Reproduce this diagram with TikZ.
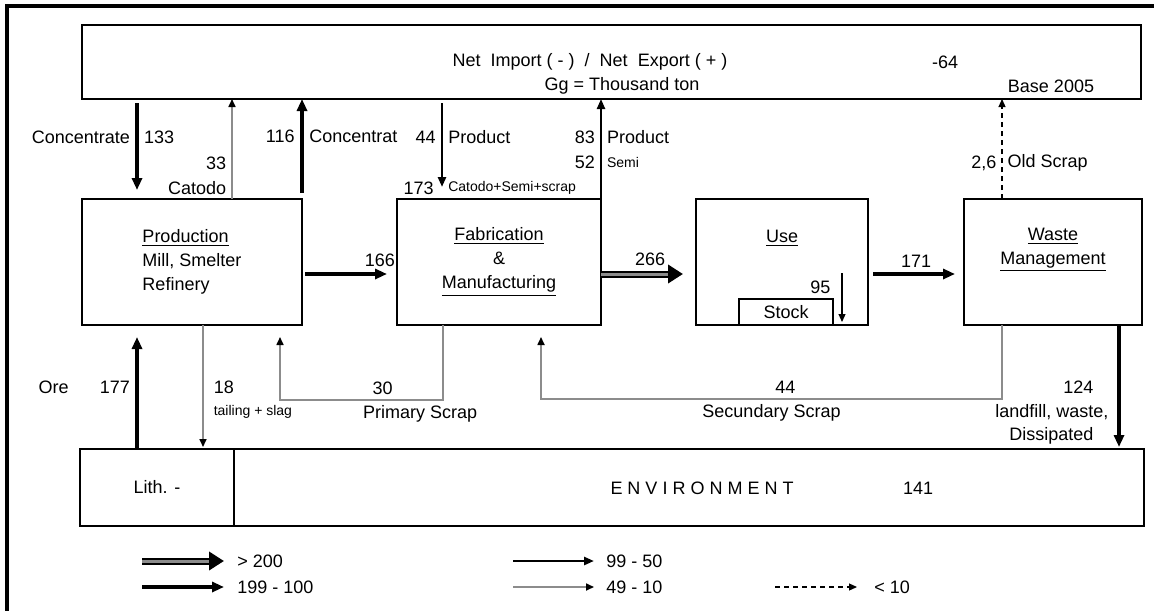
\documentclass[tikz,border=0pt]{standalone}
\usepackage{fontspec}
\setmainfont{Liberation Sans}
\usepackage{tikz}
\usetikzlibrary{positioning,arrows.meta}
\definecolor{flowgray}{gray}{0.55}
\newcommand{\smtxt}{\fontsize{7}{8}\selectfont}

\begin{document}
\begin{tikzpicture}[
  x=0.5pt, y=-0.5pt,
  font=\fontsize{9}{12}\selectfont,
  procbox/.style={draw, line width=1pt, inner sep=0pt, outer sep=0pt,
                  minimum height=63pt, align=center},
  flatbox/.style={draw, line width=1pt, inner sep=0pt, outer sep=0pt,
                  minimum height=38.5pt},
  lbl/.style={inner sep=2.5pt},
  flowA/.style={line width=3.5pt, -{Triangle[length=7.5pt,width=9pt]},
                postaction={draw=flowgray, line width=1.5pt, -, shorten >=7.5pt}},
  flowB/.style={line width=2pt, -{Triangle[length=6pt,width=5pt]}},
  flowC/.style={line width=1.3pt, -{Triangle[length=5pt,width=4pt]}},
  flowD/.style={line width=0.8pt, draw=flowgray,
                -{Triangle[length=4pt,width=3.5pt,color=black]}},
  flowE/.style={line width=0.6pt, dash pattern=on 2.5pt off 2pt,
                -{Triangle[length=4pt,width=3.5pt]}},
  flowS/.style={line width=0.6pt, -{Triangle[length=4pt,width=3.5pt]}}
]
\useasboundingbox (0,0) rectangle (1154,610);
\draw[line width=1.8pt] (7,615) -- (7,6) -- (1160,6);

% trade box
\node[flatbox, minimum width=529.5pt, minimum height=37pt] (netbox) at (611.5,62) {};
\node (nettxt) at (590,62) {Net\ \ Import ( - )\ \ /\ \ Net\ \ Export ( + )};
\node (unittxt) at (622,86) {Gg = Thousand ton};
\node (netval) at (945,62) {-64};
\node (basetxt) at (1051,86) {Base 2005};

% processes
\node[procbox, minimum width=110pt, align=left] (prod) at (192,262)
  {\underline{Production}\\Mill, Smelter\\Refinery};
\node[procbox, minimum width=102pt, right=47.5pt of prod] (fab)
  {\underline{Fabrication}\\\&\\\underline{Manufacturing}};
\node[procbox, minimum width=86pt, right=47.5pt of fab] (use) {};
\node[procbox, minimum width=89pt, right=48pt of use] (waste) {};
\node (uselbl) at ([yshift=-19.5pt]use.north) {\underline{Use}};
\node[draw, line width=1pt, inner sep=0pt, outer sep=0pt,
      minimum width=47pt, minimum height=13pt] (stock) at (786,312) {Stock};
\node[align=center] (wastelbl) at ([yshift=-25.5pt]waste.north)
  {\underline{Waste}\\\underline{Management}};

% environment
\node[flatbox, minimum width=77pt] (lith) at (157,487.5) {Lith. -};
\node[flatbox, minimum width=455pt, right=0pt of lith] (env) {};
\node (envtxt) at (702,488) {E N V I R O N M E N T};
\node (envval) at (918,488) {141};

\coordinate (xA) at (137,0);
\coordinate (xB) at (232,0);
\coordinate (xD) at (442,0);
\coordinate (xF) at (1002,0);
\coordinate (xT) at (203,0);
\coordinate (xW) at (1119,0);

% imports / exports
\draw[flowB, shorten <=2pt, shorten >=4.5pt] (netbox.south -| xA)
  -- node[lbl, pos=.38, left] {Concentrate} node[lbl, pos=.38, right] {133}
  (prod.north -| xA);
\draw[flowD] (prod.north -| xB)
  -- node[lbl, pos=.36, left] {33} node[lbl, pos=.11, left] {Catodo}
  (netbox.south -| xB);
\draw[flowB, line width=2.4pt] ([yshift=3pt]prod.north east)
  -- node[lbl, pos=.6, left] {116} node[lbl, pos=.6, right] {Concentrat}
  (netbox.south -| prod.north east);
\draw[flowC, shorten <=2pt, shorten >=6pt] (netbox.south -| xD)
  -- node[lbl, pos=.38, left] {44} node[lbl, pos=.38, right] {Product}
     node[lbl, pos=.89, left=1pt] {173}
     node[lbl, pos=.89, right] {\smtxt Catodo+Semi+scrap}
  (fab.north -| xD);
\draw[flowC, line width=1.1pt] (fab.north east)
  -- node[lbl, pos=.62, left] {83} node[lbl, pos=.62, right] {Product}
     node[lbl, pos=.37, left] {52} node[lbl, pos=.37, right] {\smtxt Semi}
  (netbox.south -| fab.north east);
\draw[flowE] (waste.north -| xF)
  -- node[lbl, pos=.36, left] {2,6} node[lbl, pos=.36, right] {Old Scrap}
  (netbox.south -| xF);

% main chain
\draw[flowB, line width=2.2pt, shorten <=1.5pt, shorten >=5pt] ([yshift=-6pt]prod.east)
  -- node[lbl, pos=.82, above] {166} ([yshift=-6pt]fab.west);
\draw[flowA] ([yshift=-6pt]fab.east)
  -- node[lbl, pos=.6, above] {266} ([xshift=-6.5pt, yshift=-6pt]use.west);
\draw[flowB, shorten <=2.5pt, shorten >=4.5pt] ([yshift=-6pt]use.east)
  -- node[lbl, pos=.5, above] {171} ([yshift=-6pt]waste.west);
\coordinate (stocktop) at (842,273);
\draw[flowS, shorten >=1.5pt] (stocktop)
  -- node[lbl, pos=.27, left=3pt] {95} (use.south -| stocktop);

% to and from the environment
\draw[flowB, shorten >=6pt] (lith.north -| xA)
  -- node[lbl, pos=.5, left] (n177) {177} (prod.south -| xA);
\node[lbl, left=9.5pt of n177] (ore) {Ore};
\draw[flowD, shorten >=1pt] (prod.south -| xT)
  -- node[lbl, pos=.5, right=2.5pt] {18}
     node[lbl, pos=.7, right=2.5pt] {\smtxt tailing + slag}
  (lith.north -| xT);
\draw[flowB, line width=1.6pt, shorten >=1pt] (waste.south -| xW)
  -- node[lbl, pos=.5, left=9.5pt] {124}
     node[lbl, pos=.7, left=2pt] {landfill, waste,}
     node[lbl, pos=.89, left=9.5pt] {Dissipated}
  (env.north -| xW);

% scrap loops
\coordinate (psA) at (443,400);
\coordinate (psB) at (280,400);
\draw[flowD, shorten >=6pt] (fab.south -| psA) -- (psA)
  -- node[lbl, pos=.37, above] {30} node[lbl, pos=.14, below] {Primary Scrap}
  (psB) -- (prod.south -| psB);
\coordinate (ssA) at (1002,399);
\coordinate (ssB) at (541,399);
\draw[flowD, shorten >=6pt] (waste.south -| ssA) -- (ssA)
  -- node[lbl, pos=.47, above] {44} node[lbl, pos=.5, below] {Secundary Scrap}
  (ssB) -- (fab.south -| ssB);

% legend
\coordinate (lgA) at (142,561);
\coordinate (lgB) at (142,587);
\coordinate (lgC) at (513,561);
\coordinate (lgD) at (513,587);
\coordinate (lgE) at (775,587);
\node[lbl, right=45pt of lgA] (lgAt) {> 200};
\node[lbl, right=45pt of lgB] (lgBt) {199 - 100};
\node[lbl, right=44pt of lgC] (lgCt) {99 - 50};
\node[lbl, right=44pt of lgD] (lgDt) {49 - 10};
\node[lbl, right=47pt of lgE] (lgEt) {< 10};
\draw[flowA] (lgA) -- ([xshift=-4pt]lgAt.west);
\draw[flowB] (lgB) -- ([xshift=-4pt]lgBt.west);
\draw[flowC] (lgC) -- ([xshift=-3.5pt]lgCt.west);
\draw[flowD] (lgD) -- ([xshift=-3.5pt]lgDt.west);
\draw[flowE] (lgE) -- ([xshift=-6pt]lgEt.west);
\end{tikzpicture}
\end{document}
